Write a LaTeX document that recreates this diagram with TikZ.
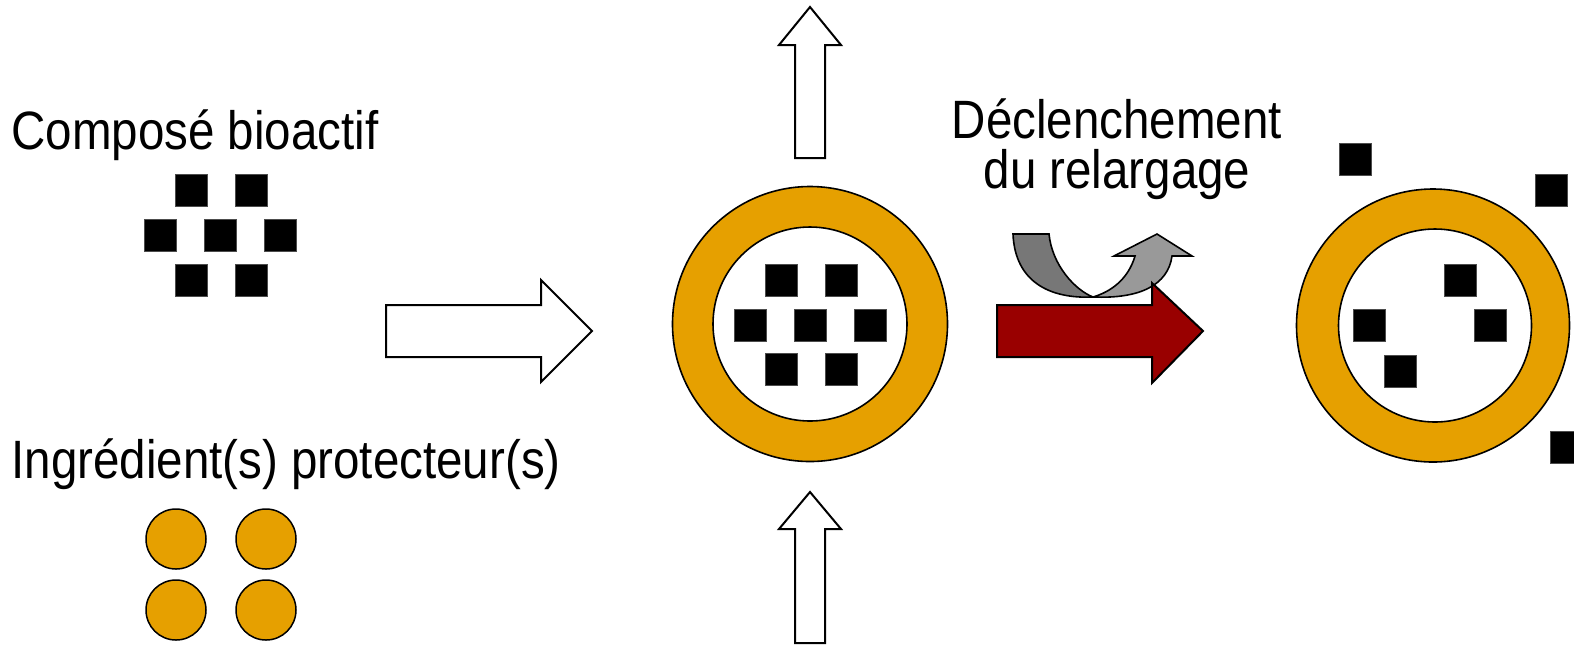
\documentclass[tikz,border=0pt]{standalone}
\usepackage{fontspec}
\setmainfont{Liberation Sans}[FakeStretch=0.88]
\definecolor{gold}{RGB}{230,160,0}
\definecolor{darkred}{RGB}{153,0,0}
\definecolor{gA}{RGB}{119,119,119}
\definecolor{gB}{RGB}{153,153,153}
\begin{document}
\begin{tikzpicture}[x=0.5pt,y=-0.5pt,
  sq/.style={shape=rectangle,fill=black,draw=black!70,line width=0.3pt,minimum size=16pt,inner sep=0pt},
  bead/.style={circle,fill=gold,draw=black,line width=0.75pt,minimum size=30pt,inner sep=0pt},
  shell/.style={circle,fill=gold,draw=black,line width=0.8pt,inner sep=0pt},
  core/.style={circle,fill=white,draw=black,line width=0.8pt,inner sep=0pt},
  lbl/.style={font=\fontsize{27}{30}\selectfont,inner sep=0pt},
  blockarrow/.style={draw=black,line width=1pt,line join=miter,fill=white}]
\useasboundingbox (0,0) rectangle (1574,645);

% labels
\node[lbl,anchor=base west] (t1) at (11,149.5) {Composé bioactif};
\node[lbl,anchor=base west] (t2) at (11,478) {Ingrédient(s) protecteur(s)};
\node[lbl,anchor=base] (t3) at (1117,138) {Déclenchement};
\node[lbl,anchor=base] (t4) at (1117,188) {du relargage};

% bioactive compound squares (left)
\node[sq] (a1) at (191,190) {};
\node[sq] (a2) at (251,190) {};
\node[sq] (a3) at (160,235) {};
\node[sq] (a4) at (220,235) {};
\node[sq] (a5) at (280,235) {};
\node[sq] (a6) at (191,280) {};
\node[sq] (a7) at (251,280) {};

% protective beads
\node[bead] (b1) at (176,539) {};
\node[bead] (b2) at (266,539) {};
\node[bead] (b3) at (176,610) {};
\node[bead] (b4) at (266,610) {};

% left open arrow
\draw[blockarrow] (386,305) -- (541,305) -- (541,280) -- (592,331) -- (541,382) -- (541,357) -- (386,357) -- cycle;

% central capsule
\node[shell,minimum size=137.5pt] (cap1) at (810,324) {};
\node[core,minimum size=97pt] (core1) at (810,324) {};
\node[sq] (c1) at (781,280) {};
\node[sq] (c2) at (841,280) {};
\node[sq] (c3) at (750,325) {};
\node[sq] (c4) at (810,325) {};
\node[sq] (c5) at (870,325) {};
\node[sq] (c6) at (781,369) {};
\node[sq] (c7) at (841,369) {};

% vertical open arrows
\draw[blockarrow] (795,158) -- (795,45) -- (779,45) -- (810,7) -- (841,45) -- (825,45) -- (825,158) -- cycle;
\draw[blockarrow] (795,643) -- (795,529) -- (779,529) -- (810,492) -- (841,529) -- (825,529) -- (825,643) -- cycle;

% curved trigger arrow
\draw[fill=gB,line width=0.8pt,line join=miter] (1093,297) .. controls (1140,299) and (1168,285) .. (1172,256)
  -- (1192,256) -- (1157,234) -- (1114,256) -- (1135,256)
  .. controls (1128,280) and (1110,292) .. (1093,297) -- cycle;
\draw[fill=gA,line width=0.8pt,line join=miter] (1013,234) -- (1049,234)
  .. controls (1052,265) and (1075,290) .. (1093,297)
  .. controls (1050,299) and (1015,282) .. (1013,234) -- cycle;

% red release arrow
\draw[fill=darkred,draw=black,line width=1pt,line join=miter] (997,305) -- (1152,305) -- (1152,283) -- (1203,331) -- (1152,383) -- (1152,357) -- (997,357) -- cycle;

% right capsule
\node[shell,minimum size=136.5pt] (cap2) at (1433,325.5) {};
\node[core,minimum size=96.5pt] (core2) at (1435,325.5) {};
\node[sq] (d1) at (1460,280) {};
\node[sq] (d2) at (1369,325) {};
\node[sq] (d3) at (1490,325) {};
\node[sq] (d4) at (1400,371) {};
\node[sq] (e1) at (1355,159) {};
\node[sq] (e2) at (1551,190) {};
\node[sq] (e3) at (1566,447) {};
\end{tikzpicture}
\end{document}
